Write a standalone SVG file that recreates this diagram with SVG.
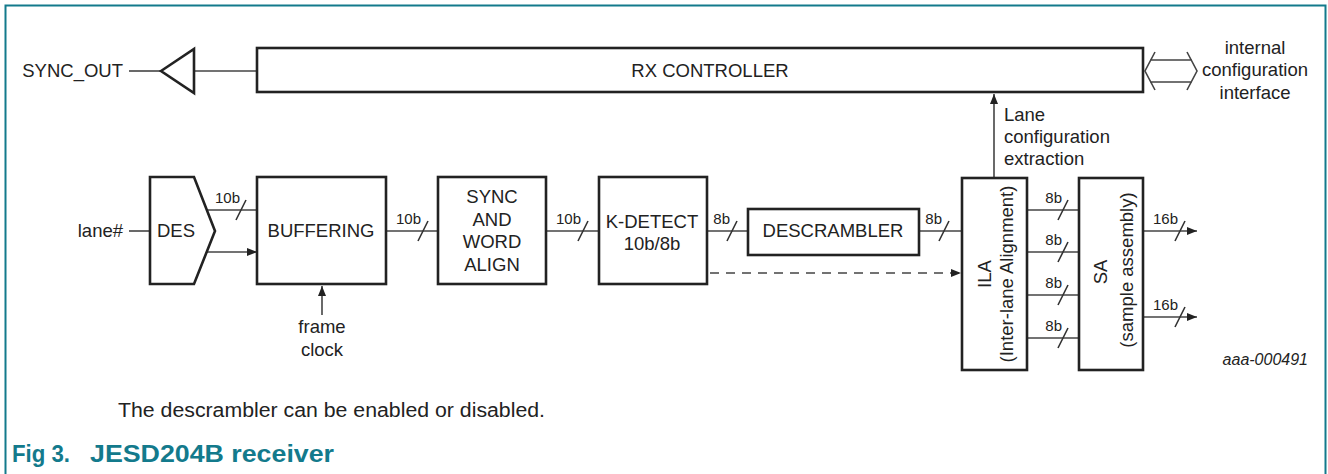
<svg xmlns="http://www.w3.org/2000/svg" width="1328" height="474" viewBox="0 0 1328 474">
<style>
text{font-family:"Liberation Sans",Arial,sans-serif;fill:#222}
.t{font-size:18.5px}
.lbl{font-size:15px}
.box{fill:#fff;stroke:#222;stroke-width:2.6}
.ln{fill:none;stroke:#444;stroke-width:1.6}
.sl{fill:none;stroke:#333;stroke-width:1.6}
.c{text-anchor:middle}
.e{text-anchor:end}
.fig{font-size:24px;font-weight:bold;fill:#137a8c}
</style>
<defs>
<marker id="ah" viewBox="0 0 10 8" refX="10" refY="4" markerWidth="10" markerHeight="8" markerUnits="userSpaceOnUse" orient="auto">
<path d="M0,0 L10,4 L0,8 Z" fill="#222"/>
</marker>
</defs>
<rect width="1328" height="474" fill="#fff"/>
<path d="M5.5,474 V5.5 H1325.5 V474" fill="none" stroke="#137a8c" stroke-width="2"/>

<g id="connectors">
<line class="ln" x1="129" y1="71" x2="161" y2="71"/>
<line class="ln" x1="194" y1="71" x2="257" y2="71"/>
<line class="ln" x1="129" y1="231" x2="150" y2="231"/>
<line class="ln" x1="207" y1="210" x2="257" y2="210"/>
<line class="ln" x1="207" y1="252" x2="257" y2="252" marker-end="url(#ah)"/>
<line class="ln" x1="322" y1="315" x2="322" y2="286" marker-end="url(#ah)"/>
<line class="ln" x1="386" y1="231" x2="438" y2="231"/>
<line class="ln" x1="546" y1="231" x2="599" y2="231"/>
<line class="ln" x1="707" y1="231" x2="748" y2="231"/>
<line class="ln" x1="919" y1="231" x2="962" y2="231"/>
<line class="ln" x1="710" y1="273" x2="961" y2="273" stroke-dasharray="9 7" marker-end="url(#ah)"/>
<line class="ln" x1="994" y1="178" x2="994" y2="94" marker-end="url(#ah)"/>
<line class="ln" x1="1027" y1="210" x2="1079" y2="210"/>
<line class="ln" x1="1027" y1="252" x2="1079" y2="252"/>
<line class="ln" x1="1027" y1="295" x2="1079" y2="295"/>
<line class="ln" x1="1027" y1="338" x2="1079" y2="338"/>
<line class="ln" x1="1143" y1="231" x2="1197" y2="231" marker-end="url(#ah)"/>
<line class="ln" x1="1143" y1="317" x2="1197" y2="317" marker-end="url(#ah)"/>
<path class="sl" d="M236,220 L246,200 M418,241 L428,221 M578,241 L588,221 M727,241 L737,221 M939,241 L949,221 M1058,220 L1068,200 M1058,262 L1068,242 M1058,305 L1068,285 M1058,348 L1068,328 M1175,241 L1185,221 M1175,327 L1185,307"/>
<path class="ln" d="M1155,52 L1145,71 L1155,90 M1187,52 L1197,71 L1187,90 M1150,60 H1192 M1150,82 H1192"/>
<text class="lbl e" x="240" y="203">10b</text>
<text class="lbl e" x="421" y="224">10b</text>
<text class="lbl e" x="581" y="224">10b</text>
<text class="lbl e" x="730" y="224">8b</text>
<text class="lbl e" x="942" y="224">8b</text>
<text class="lbl e" x="1062" y="203">8b</text>
<text class="lbl e" x="1062" y="245">8b</text>
<text class="lbl e" x="1062" y="288">8b</text>
<text class="lbl e" x="1062" y="331">8b</text>
<text class="lbl e" x="1178" y="224">16b</text>
<text class="lbl e" x="1178" y="310">16b</text>
</g>

<g id="sync-out">
<polygon points="161,71 194,49 194,93" fill="#fff" stroke="#222" stroke-width="2.6"/>
<text class="t e" x="123" y="77">SYNC_OUT</text>
</g>

<g id="rx-controller">
<rect class="box" x="257" y="48" width="886" height="44"/>
<text class="t c" x="710" y="77">RX CONTROLLER</text>
</g>

<g id="internal-config">
<text class="t c" x="1255" y="54">internal</text>
<text class="t c" x="1255" y="76">configuration</text>
<text class="t c" x="1255" y="99">interface</text>
</g>

<g id="lane-config">
<text class="t" x="1004" y="121">Lane</text>
<text class="t" x="1004" y="143">configuration</text>
<text class="t" x="1004" y="165">extraction</text>
</g>

<g id="lane">
<text class="t e" x="123" y="237">lane#</text>
</g>

<g id="des">
<path class="box" d="M150,177 L194,177 L215,231 L194,284 L150,284 Z"/>
<text class="t c" x="176" y="237">DES</text>
</g>

<g id="buffering">
<rect class="box" x="257" y="177" width="129" height="107"/>
<text class="t c" x="321" y="237">BUFFERING</text>
</g>

<g id="frame-clock">
<text class="t c" x="322" y="333">frame</text>
<text class="t c" x="322" y="356">clock</text>
</g>

<g id="sync-align">
<rect class="box" x="438" y="177" width="108" height="107"/>
<text class="t c" x="492" y="203">SYNC</text>
<text class="t c" x="492" y="226">AND</text>
<text class="t c" x="492" y="248">WORD</text>
<text class="t c" x="492" y="271">ALIGN</text>
</g>

<g id="k-detect">
<rect class="box" x="599" y="177" width="108" height="107"/>
<text class="t c" x="652" y="228">K-DETECT</text>
<text class="t c" x="652" y="250">10b/8b</text>
</g>

<g id="descrambler">
<rect class="box" x="748" y="209" width="171" height="46"/>
<text class="t c" x="833" y="237">DESCRAMBLER</text>
</g>

<g id="ila">
<rect class="box" x="962" y="178" width="65" height="192"/>
<text class="t c" transform="translate(991,274) rotate(-90)">ILA</text>
<text class="t c" transform="translate(1013,274) rotate(-90)">(Inter-lane Alignment)</text>
</g>

<g id="sa">
<rect class="box" x="1079" y="178" width="64" height="192"/>
<text class="t c" transform="translate(1107,272) rotate(-90)">SA</text>
<text class="t c" transform="translate(1133,270) rotate(-90)">(sample assembly)</text>
</g>

<g id="caption">
<text style="font-size:16px;font-style:italic" x="1308" y="365" text-anchor="end">aaa-000491</text>
<text style="font-size:20px" x="118" y="417" textLength="427" lengthAdjust="spacingAndGlyphs">The descrambler can be enabled or disabled.</text>
<text class="fig" x="12" y="462" textLength="58" lengthAdjust="spacingAndGlyphs">Fig 3.</text>
<text class="fig" x="90" y="462" textLength="244" lengthAdjust="spacingAndGlyphs">JESD204B receiver</text>
</g>
</svg>
